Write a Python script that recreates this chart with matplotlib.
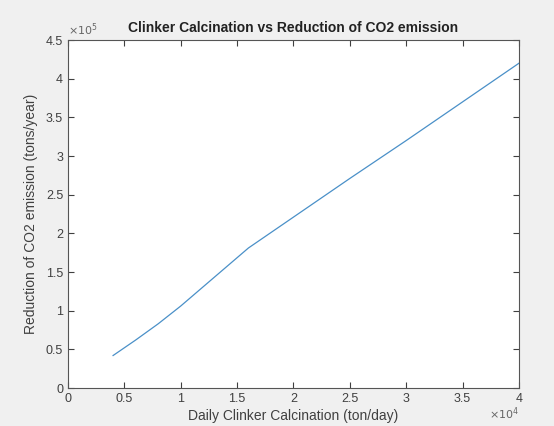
import matplotlib
matplotlib.use("Agg")
import matplotlib.pyplot as plt
from matplotlib.ticker import FuncFormatter, MultipleLocator

plt.rcParams['font.family'] = ['Liberation Sans', 'DejaVu Sans']

clinker = [4000, 6000, 8000, 10000, 12000, 14000, 16000, 20000, 25000, 30000, 35000, 40000]
reduction = [42000, 62000, 83000, 106000, 131000, 156000, 181000, 221000, 271000, 320000, 370000, 420000]

title = "Clinker Calcination vs Reduction of CO2 emission"
xlabel = "Daily Clinker Calcination (ton/day)"
ylabel = "Reduction of CO2 emission (tons/year)"

fig = plt.figure(figsize=(5.54, 4.26), dpi=100, facecolor='#f0f0f0')
ax = fig.add_axes([0.1227, 0.0892, 0.8141, 0.8169])
ax.set_facecolor('white')
ax.plot(clinker, reduction, color='#4a90c8', linewidth=0.9)

ax.set_xlim(0, 40000)
ax.set_ylim(0, 450000)
ax.xaxis.set_major_locator(MultipleLocator(5000))
ax.yaxis.set_major_locator(MultipleLocator(50000))
ax.xaxis.set_major_formatter(FuncFormatter(lambda v, p: '%g' % (v / 1e4)))
ax.yaxis.set_major_formatter(FuncFormatter(lambda v, p: '%g' % (v / 1e5)))

txt = '#404040'
ax.tick_params(direction='in', top=True, right=True, length=4, width=0.8,
               colors=txt, labelsize=9)
for s in ax.spines.values():
    s.set_color('#555555')
    s.set_linewidth(0.8)

ax.set_title(title, fontsize=10, fontweight='bold', color='#222222', pad=6)
ax.set_xlabel(xlabel, fontsize=10, color=txt, labelpad=3)
ax.set_ylabel(ylabel, fontsize=10, color=txt, labelpad=6)

ax.text(0.0, 1.005, r'$\times10^5$', transform=ax.transAxes, fontsize=8,
        color='#666666', ha='left', va='bottom')
ax.text(1.0, -0.075, r'$\times10^4$', transform=ax.transAxes, fontsize=8,
        color='#666666', ha='right', va='center')

fig.savefig('out.png', dpi=100, facecolor=fig.get_facecolor())
